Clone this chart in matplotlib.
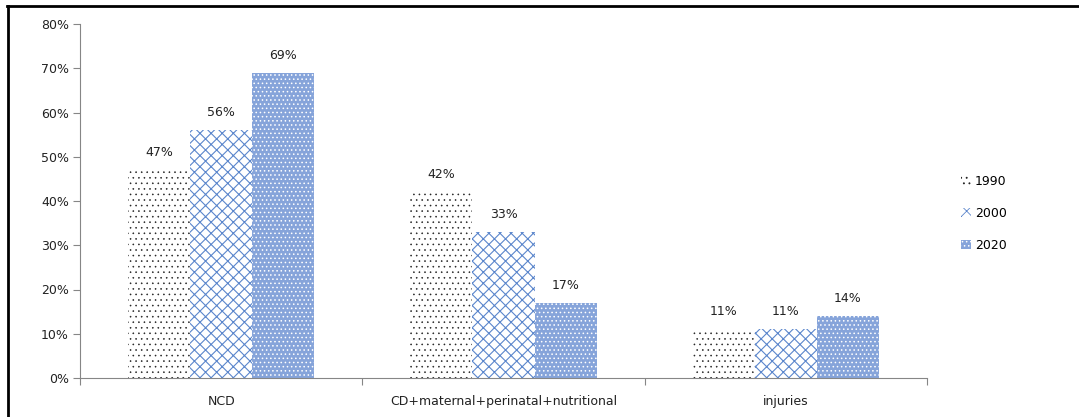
import matplotlib
matplotlib.use("Agg")
import matplotlib.pyplot as plt
from matplotlib.lines import Line2D
from matplotlib.patches import Patch
import numpy as np

categories = ["NCD", "CD+maternal+perinatal+nutritional", "injuries"]
years = ["1990", "2000", "2020"]
v1990 = [47, 42, 11]
v2000 = [56, 33, 11]
v2020 = [69, 17, 14]
yticks = [0, 10, 20, 30, 40, 50, 60, 70, 80]

plt.rcParams['font.family'] = ['DejaVu Sans']

fig = plt.figure(figsize=(10.79, 4.17), dpi=100)
ax = fig.add_axes([80/1079, 1-378/417, (927-80)/1079, (378-24)/417])

FS = 9
x = np.arange(len(categories))
w = 0.22
styles = [
    dict(facecolor="white", edgecolor="#222222", hatch="..."),
    dict(facecolor="white", edgecolor="#5b86cc", hatch="xxx"),
    dict(facecolor="#86a4da", edgecolor="white", hatch="...."),
]
hlw = [0.4, 0.8, 0.6]
series = [v1990, v2000, v2020]
handles = []
for i, (vals, st) in enumerate(zip(series, styles)):
    plt.rcParams['hatch.linewidth'] = hlw[i]
    bars = ax.bar(x + (i-1)*w, vals, w, linewidth=0, label=years[i], **st)
    handles.append(Patch(**st, linewidth=0))
    for b, v in zip(bars, vals):
        ax.annotate(f"{v}%", (b.get_x()+b.get_width()/2, v), xytext=(0, 8),
                    textcoords="offset points", ha="center", va="bottom",
                    fontsize=FS, color="#222222")

ax.set_xlim(-0.5, 2.5)
ax.set_ylim(0, 80)
ax.set_yticks(yticks)
ax.set_yticklabels([f"{t}%" for t in yticks], fontsize=FS, color="#222222")
ax.set_xticks([-0.5, 0.5, 1.5, 2.5])
ax.set_xticklabels([])
ax.set_xticks(x, minor=True)
ax.set_xticklabels(categories, minor=True, fontsize=FS, color="#222222")
ax.tick_params(axis="x", which="minor", length=0, pad=12)
ax.tick_params(axis="x", which="major", length=5, color="#868686", direction="out")
ax.tick_params(axis="y", length=5, color="#868686", direction="out", pad=3)
for s in ["top", "right"]:
    ax.spines[s].set_visible(False)
for s in ["left", "bottom"]:
    ax.spines[s].set_color("#868686")

fig.legend(handles, years, loc="upper left", bbox_to_anchor=(950/1079, 1-164/417),
           frameon=False, fontsize=FS, handlelength=0.8, handleheight=0.8,
           labelspacing=1.5, handletextpad=0.3)

fig.add_artist(Line2D([8/1079, 8/1079], [0, 1-6/417], color="black", lw=2,
                      transform=fig.transFigure))
fig.add_artist(Line2D([7/1079, 1], [1-6/417, 1-6/417], color="black", lw=2,
                      transform=fig.transFigure))

fig.savefig("out.png", dpi=100)
